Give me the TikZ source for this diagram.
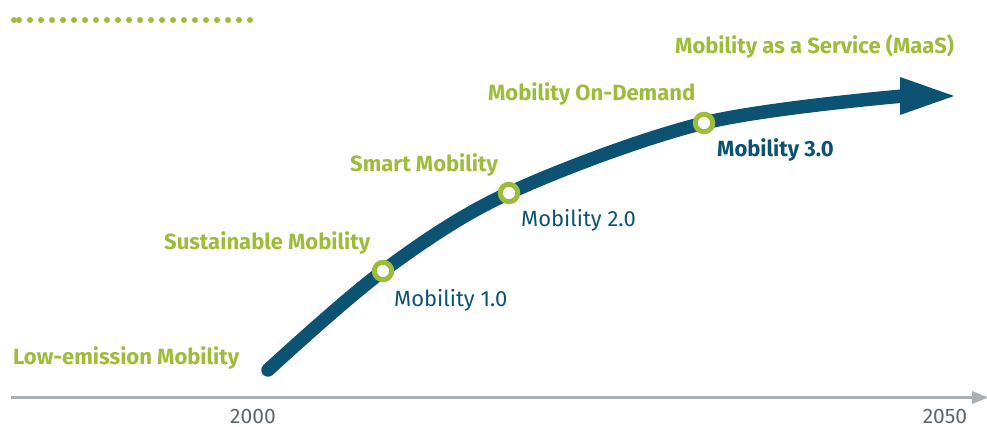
\documentclass[tikz,border=0pt]{standalone}
\usepackage{fontspec}
\setmainfont{Fira Sans}
\definecolor{mblue}{HTML}{0B5273}
\definecolor{mgreen}{HTML}{9DBD3A}
\definecolor{axgray}{HTML}{A9B0B6}
\definecolor{txgray}{HTML}{5D6770}
\tikzset{
  gtext/.style={anchor=base west,inner sep=0pt,text=mgreen,font=\fontsize{22}{24}\selectfont\bfseries},
  btext/.style={anchor=base west,inner sep=0pt,text=mblue,font=\fontsize{22}{24}\selectfont},
  bbtext/.style={anchor=base west,inner sep=0pt,text=mblue,font=\fontsize{22}{24}\selectfont\bfseries},
  ytext/.style={anchor=base,inner sep=0pt,text=txgray,font=\fontsize{21}{23}\selectfont},
  marker/.style={circle,draw=mgreen,fill=white,line width=5pt,minimum size=17.5pt,inner sep=0pt},
  dotm/.style={circle,fill=mgreen,minimum size=6pt,inner sep=0pt},
}
\begin{document}
\begin{tikzpicture}[x=1pt,y=-1pt]
\useasboundingbox (0,0) rectangle (987,427);
% dotted rule
\node[dotm] (d0) at (14,20) {};
\foreach \k in {0,...,21} {\node[dotm] (dd\k) at (19+11*\k,20) {};}
% time axis
\coordinate (axs) at (11,397.5);
\coordinate (axe) at (974,397.5);
\draw[axgray,line width=3pt] (axs) -- (axe);
\fill[axgray] (972,391) -- (988,397.5) -- (972,404) -- cycle;
\node[ytext] (y2000) at (253,423) {2000};
\node[ytext] (y2050) at (945,423) {2050};
% curve
\coordinate (s) at (268,370);
\coordinate (m1) at (383,271);
\coordinate (m2) at (509,193);
\coordinate (m3) at (704,123);
\coordinate (e) at (903,96);
\draw[mblue,line width=13.5pt,line cap=round] plot[smooth,tension=0.55] coordinates {(s) (m1) (m2) (m3) (e)};
\fill[mblue] (900,77) -- (954,96) -- (900,115) -- cycle;
\node[marker] (k1) at (m1) {};
\node[marker] (k2) at (m2) {};
\node[marker] (k3) at (m3) {};
% labels
\node[gtext] (l0) at (13,364) {Low-emission Mobility};
\node[gtext] (l1) at (164,250) {Sustainable Mobility};
\node[gtext] (l2) at (350,172) {Smart Mobility};
\node[gtext] (l3) at (488,101) {Mobility On-Demand};
\node[gtext] (l4) at (675,54) {Mobility as a Service (MaaS)};
\node[btext] (v1) at (394,306) {Mobility 1.0};
\node[btext] (v2) at (521,227) {Mobility 2.0};
\node[bbtext] (v3) at (717,157) {Mobility 3.0};
\end{tikzpicture}
\end{document}
